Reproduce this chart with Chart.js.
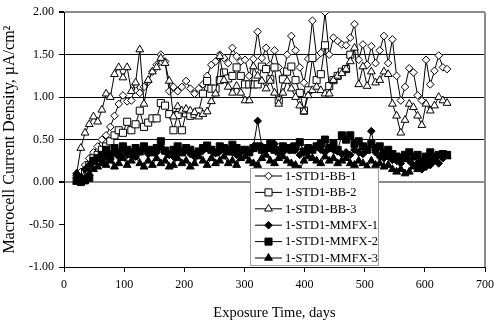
<!DOCTYPE html>
<html>
<head>
<meta charset="utf-8">
<script src="https://cdn.jsdelivr.net/npm/chart.js@4/dist/chart.umd.min.js"></script>
<style>
html, body { margin: 0; padding: 0; background: #fff; }
</style>
</head>
<body>
<canvas id="grafico" width="500" height="322"></canvas>
<script>
// dias de exposicao (leituras semanais)
const dias = [21, 28, 35, 42, 49, 56, 63, 70, 77, 84, 91, 98, 105, 112, 119, 126, 133, 140, 147, 154,
    161, 168, 175, 182, 189, 196, 203, 210, 217, 224, 231, 238, 245, 252, 259, 266, 273, 280, 287, 294,
    301, 308, 315, 322, 329, 336, 343, 350, 357, 364, 371, 378, 385, 392, 399, 406, 413, 420, 427, 434,
    441, 448, 455, 462, 469, 476, 483, 490, 497, 504, 511, 518, 525, 532, 539, 546, 553, 560, 567, 574,
    581, 588, 595, 602, 609, 616, 623, 630, 637];

const bb1 = [0.05, 0.12, 0.20, 0.28, 0.35, 0.42, 0.50, 0.55, 0.65, 0.78, 0.92, 1.02, 0.95, 0.96, 1.15, 1.05, 1.12, 1.18, 1.30, 1.38,
    1.50, 1.42, 1.07, 1.12, 1.07, 1.12, 1.19, 1.10, 1.04, 1.10, 1.15, 1.25, 1.38, 1.42, 1.50, 1.46, 1.40, 1.58, 1.48, 1.42,
    1.44, 1.25, 1.45, 1.77, 1.46, 1.58, 1.38, 1.55, 1.35, 1.23, 1.50, 1.72, 1.55, 1.35, 1.17, 1.45, 1.90, 1.48, 1.52, 2.00,
    1.50, 1.70, 1.66, 1.62, 1.61, 1.70, 1.86, 1.44, 1.62, 1.38, 1.60, 1.40, 1.55, 1.72, 1.40, 1.68, 1.25, 0.96, 1.12, 1.34,
    1.29, 1.02, 0.96, 1.44, 1.15, 1.31, 1.49, 1.35, 1.33];

const bb2 = [null, 0.05, 0.12, 0.20, 0.28, 0.32, 0.38, 0.42, 0.48, 0.55, 0.61, 0.58, 0.71, 0.61, 0.68, 0.84, 0.65, 0.70, 0.75, 0.75,
    0.93, 0.90, 0.80, 0.61, 0.79, 0.61, 0.81, 0.78, 0.80, 0.83, 1.04, 1.19, 1.10, 1.10, 1.20, 1.29, 1.22, 1.25, 1.35, 1.25,
    1.15, 1.15, 1.15, 1.15, 1.36, 1.33, 1.21, 1.35, 0.96, 1.21, 1.30, 1.36, 1.20, 1.05, 0.84, 1.08, 1.46, 1.20, 1.27, 1.61,
    1.13, 1.20, 1.25, 1.30, 1.33, 1.50, null, null, null, null, null, null, null, null, null, null, null, null, null, null,
    null, null, null, null, null, null, null, null, null];

const bb3 = [0.10, 0.40, 0.58, 0.68, 0.77, 0.71, 0.85, 1.04, 1.00, 1.27, 1.35, 1.23, 1.35, 1.07, 1.17, 1.56, 0.92, 1.20, 1.30, 1.35,
    1.46, 1.40, 1.19, 0.77, 0.89, 0.84, 0.86, 0.84, 0.82, 0.77, 0.80, 0.83, 0.95, 1.04, 1.48, 1.20, 1.12, 1.05, 1.13, 1.05,
    0.96, 0.96, 1.36, 1.25, 1.19, 1.10, 1.19, 1.05, 0.92, 1.05, 1.19, 1.10, 1.00, 0.90, 0.83, 1.02, 1.08, 1.12, 1.08, 1.04,
    1.04, 1.20, 1.25, 1.28, 1.33, 1.42, 1.58, 1.15, 1.36, 1.13, 1.30, 1.17, 1.20, 1.30, 1.27, 0.92, 0.78, 0.58, 0.73, 0.92,
    0.88, 0.78, 0.67, 0.92, 0.84, 0.90, 1.00, 0.96, 0.93];

const mmfx1 = [0.10, 0.05, 0.15, 0.20, 0.25, 0.28, 0.25, 0.30, 0.33, 0.35, 0.30, 0.38, 0.32, 0.35, 0.30, 0.36, 0.40, 0.33, 0.38, 0.35,
    0.42, 0.36, 0.32, 0.30, 0.34, 0.36, 0.38, 0.33, 0.30, 0.35, 0.37, 0.40, 0.38, 0.34, 0.36, 0.40, 0.38, 0.35, 0.32, 0.36,
    0.38, 0.35, 0.42, 0.72, 0.42, 0.38, 0.40, 0.45, 0.38, 0.35, 0.40, 0.42, 0.38, 0.32, 0.35, 0.40, 0.38, 0.42, 0.38, 0.35,
    0.40, 0.38, 0.36, 0.33, 0.35, 0.32, 0.38, 0.35, 0.33, 0.38, 0.60, 0.35, 0.30, 0.28, 0.30, 0.26, 0.25, 0.22, 0.28, 0.25,
    0.20, 0.22, 0.15, 0.18, 0.20, 0.25, 0.22, 0.28, null];

const mmfx2 = [0.02, 0.00, 0.02, 0.05, 0.25, 0.28, 0.32, 0.38, 0.30, 0.40, 0.35, 0.42, 0.38, 0.33, 0.40, 0.36, 0.42, 0.38, 0.35, 0.40,
    0.48, 0.37, 0.33, 0.38, 0.42, 0.35, 0.40, 0.38, 0.33, 0.36, 0.40, 0.43, 0.38, 0.35, 0.42, 0.40, 0.36, 0.44, 0.40, 0.37,
    0.38, 0.35, 0.40, 0.42, 0.38, 0.40, 0.45, 0.38, 0.36, 0.42, 0.40, 0.38, 0.42, 0.47, 0.36, 0.40, 0.38, 0.42, 0.45, 0.50,
    0.40, 0.45, 0.38, 0.55, 0.50, 0.55, 0.45, 0.48, 0.42, 0.38, 0.45, 0.40, 0.42, 0.35, 0.38, 0.33, 0.30, 0.28, 0.32, 0.35,
    0.30, 0.32, 0.25, 0.30, 0.35, 0.30, 0.32, 0.33, 0.32];

const mmfx3 = [0.00, 0.02, 0.05, 0.10, 0.15, 0.18, 0.22, 0.20, 0.25, 0.18, 0.22, 0.28, 0.20, 0.25, 0.30, 0.22, 0.18, 0.25, 0.20, 0.28,
    0.22, 0.25, 0.18, 0.20, 0.28, 0.22, 0.25, 0.18, 0.22, 0.30, 0.25, 0.20, 0.28, 0.22, 0.25, 0.30, 0.22, 0.25, 0.20, 0.28,
    0.30, 0.25, 0.22, 0.20, 0.28, 0.32, 0.25, 0.22, 0.28, 0.30, 0.25, 0.22, 0.20, 0.15, 0.25, 0.30, 0.28, 0.25, 0.22, 0.30,
    0.25, 0.28, 0.22, 0.25, 0.28, 0.22, 0.20, 0.25, 0.22, 0.18, 0.25, 0.20, 0.22, 0.18, 0.20, 0.15, 0.12, 0.15, 0.10, 0.12,
    0.18, 0.15, 0.20, 0.22, 0.25, 0.28, 0.30, 0.32, 0.30];

const ticksY = [-1.00, -0.50, 0.00, 0.50, 1.00, 1.50, 2.00];

const series = [
    { nome: "1-STD1-BB-1", valores: bb1, marcador: "rectRot", raio: 3.8, cheio: false },
    { nome: "1-STD1-BB-2", valores: bb2, marcador: "rect", raio: 5, cheio: false },
    { nome: "1-STD1-BB-3", valores: bb3, marcador: "triangle", raio: 4.5, cheio: false },
    { nome: "1-STD1-MMFX-1", valores: mmfx1, marcador: "rectRot", raio: 3.8, cheio: true },
    { nome: "1-STD1-MMFX-2", valores: mmfx2, marcador: "rect", raio: 5, cheio: true },
    { nome: "1-STD1-MMFX-3", valores: mmfx3, marcador: "triangle", raio: 4.5, cheio: true }
];

const fonte = "'Liberation Serif', 'Times New Roman', serif";

function desenharMarcador(ctx, tipo, x, y, r, cheio) {
    ctx.beginPath();
    if (tipo === "rectRot") {
        ctx.moveTo(x, y - r);
        ctx.lineTo(x + r, y);
        ctx.lineTo(x, y + r);
        ctx.lineTo(x - r, y);
        ctx.closePath();
    } else if (tipo === "rect") {
        let s = r * Math.SQRT1_2;
        ctx.rect(x - s, y - s, 2 * s, 2 * s);
    } else {
        ctx.moveTo(x, y - r);
        ctx.lineTo(x + 0.866 * r, y + 0.5 * r);
        ctx.lineTo(x - 0.866 * r, y + 0.5 * r);
        ctx.closePath();
    }
    ctx.fillStyle = cheio ? "#000" : "#fff";
    ctx.fill();
    ctx.stroke();
}

// borda direita cinza da area do grafico
const bordaPlugin = {
    id: "bordaDireita",
    beforeDatasetsDraw(chart) {
        const a = chart.chartArea;
        const ctx = chart.ctx;
        ctx.save();
        ctx.strokeStyle = "#8c8c8c";
        ctx.lineWidth = 2;
        ctx.beginPath();
        ctx.moveTo(a.right, a.top);
        ctx.lineTo(a.right, a.bottom);
        ctx.stroke();
        ctx.restore();
    }
};

// legenda desenhada dentro da area do grafico
const legendaPlugin = {
    id: "legendaInterna",
    afterDraw(chart) {
        const ctx = chart.ctx;
        const x0 = 250, y0 = 168, w = 128, h = 97;
        ctx.save();
        ctx.fillStyle = "#fff";
        ctx.fillRect(x0, y0, w, h);
        ctx.strokeStyle = "#a0a0a0";
        ctx.lineWidth = 1;
        ctx.strokeRect(x0 + 0.5, y0 + 0.5, w, h);
        ctx.font = "12.5px " + fonte;
        ctx.textBaseline = "middle";
        series.forEach(function (s, i) {
            let yy = y0 + 8 + i * 16.4;
            ctx.strokeStyle = "#000";
            ctx.lineWidth = 1;
            ctx.beginPath();
            ctx.moveTo(255, yy);
            ctx.lineTo(282, yy);
            ctx.stroke();
            desenharMarcador(ctx, s.marcador, 268.5, yy, s.raio, s.cheio);
            ctx.fillStyle = "#000";
            ctx.fillText(s.nome, 285, yy + 0.5);
        });
        ctx.restore();
    }
};

function corGrade(ctx) {
    let v = ctx.tick ? ctx.tick.value : null;
    if (v === 2) return "#8c8c8c";
    if (v === 0) return "#8c8c8c";
    if (v === 0.5 || v === 1 || v === 1.5) return "#000";
    return "rgba(0,0,0,0)";
}

function larguraGrade(ctx) {
    let v = ctx.tick ? ctx.tick.value : null;
    if (v === 2 || v === 0) return 2;
    return 1;
}

const conjuntos = series.map(function (s, i) {
    return {
        label: s.nome,
        data: dias.map(function (d, k) { return { x: d, y: s.valores[k] }; }),
        borderColor: "#000",
        borderWidth: 1,
        backgroundColor: s.cheio ? "#000" : "#fff",
        pointStyle: s.marcador,
        pointRadius: s.raio,
        pointBorderWidth: 1,
        pointBorderColor: "#000",
        pointBackgroundColor: s.cheio ? "#000" : "#fff",
        showLine: true,
        spanGaps: false,
        tension: 0,
        order: series.length - i
    };
});

const grafico = new Chart(document.getElementById("grafico"), {
    type: "scatter",
    data: { datasets: conjuntos },
    options: {
        responsive: false,
        animation: false,
        layout: { padding: { top: 7, right: 15, left: 0, bottom: 0 } },
        plugins: {
            legend: { display: false },
            tooltip: { enabled: false }
        },
        scales: {
            x: {
                type: "linear",
                min: 0,
                max: 700,
                afterFit: function (scale) { scale.height = 55; },
                ticks: {
                    stepSize: 100,
                    color: "#000",
                    padding: 6,
                    font: { family: fonte, size: 12 }
                },
                grid: {
                    drawOnChartArea: false,
                    tickLength: 5,
                    tickColor: "#000"
                },
                border: { color: "#000", width: 1 },
                title: {
                    display: true,
                    text: "Exposure Time, days",
                    color: "#000",
                    font: { family: fonte, size: 14.5 },
                    padding: { top: 6, bottom: 0 }
                }
            },
            y: {
                min: -1,
                max: 2,
                afterFit: function (scale) { scale.width = 64; },
                afterBuildTicks: function (scale) {
                    scale.ticks = ticksY.map(function (v) { return { value: v }; });
                },
                ticks: {
                    color: "#000",
                    padding: 5,
                    font: { family: fonte, size: 12 },
                    callback: function (v) { return Number(v).toFixed(2); }
                },
                grid: {
                    color: corGrade,
                    lineWidth: larguraGrade,
                    tickLength: 5,
                    tickColor: "#000"
                },
                border: { color: "#000", width: 1 },
                title: {
                    display: true,
                    text: "Macrocell Current Density, \u00b5A/cm\u00b2",
                    color: "#000",
                    font: { family: fonte, size: 16 },
                    padding: { top: 0, bottom: 0 }
                }
            }
        }
    },
    plugins: [bordaPlugin, legendaPlugin]
});
</script>
</body>
</html>
